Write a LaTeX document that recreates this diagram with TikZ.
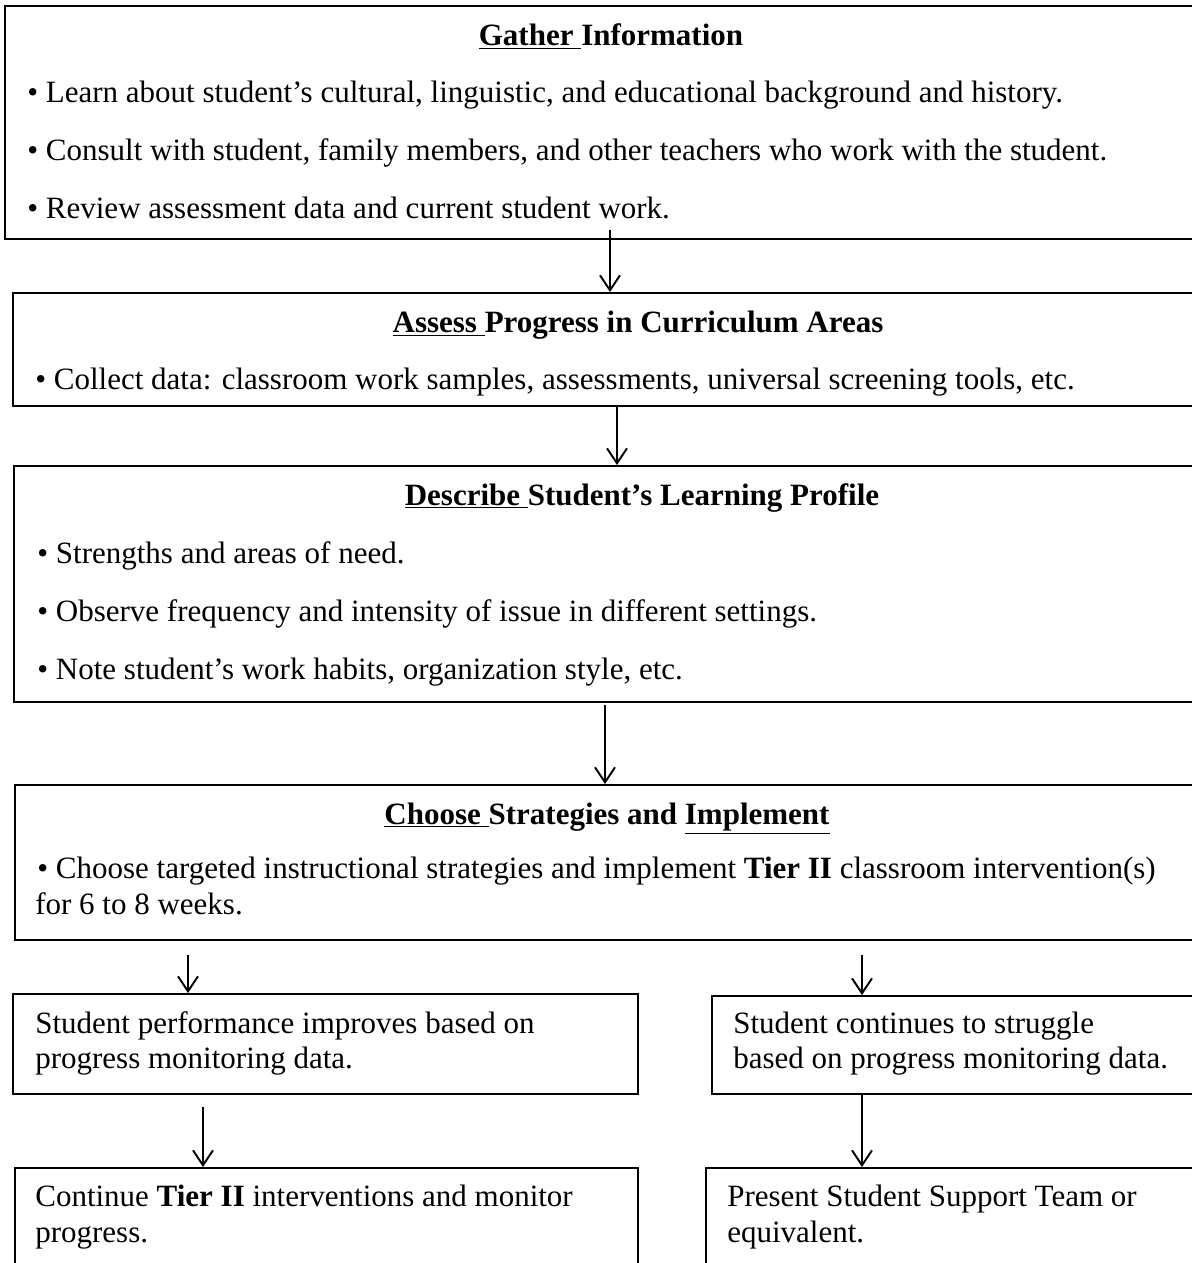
\documentclass[tikz,border=0pt]{standalone}
\usepackage{fontspec}
\setmainfont{Liberation Serif}
\usepackage{tikz}
\usetikzlibrary{fit,arrows.meta}

\newcommand{\bodysize}{\fontsize{17.64pt}{21pt}\selectfont}

\begin{document}
\begin{tikzpicture}[x=0.02cm, y=-0.02cm,
    box/.style={draw, line width=1.1pt, inner sep=0pt},
    txt/.style={anchor=base west, inner sep=0pt, font=\bodysize},
    head/.style={anchor=base, inner sep=0pt, font=\bodysize\bfseries},
    >={Straight Barb[length=3mm,width=4mm]},
]

\useasboundingbox (0,0) rectangle (1192,1263);
\clip (0,0) rectangle (1192,1263);

% boxes
\node [box, fit={(5,6) (1215,239)}] (gather) {};
\node [box, fit={(13,293) (1215,406)}] (assess) {};
\node [box, fit={(14,466) (1215,702)}] (describe) {};
\node [box, fit={(15,785) (1215,940)}] (choose) {};
\node [box, fit={(13,994) (638,1094)}] (better) {};
\node [box, fit={(712,996) (1215,1094)}] (struggle) {};
\node [box, fit={(15,1168) (638,1290)}] (cont) {};
\node [box, fit={(706,1168) (1215,1290)}] (present) {};

% texts
\node [head] (g0) at (611,46) {\underline{Gather\ }Information};
\node [txt] (g1) at (27,103) {• Learn about student’s cultural, linguistic, and educational background and history.};
\node [txt] (g2) at (27,161) {• Consult with student, family members, and other teachers who work with the student.};
\node [txt] (g3) at (27,219) {• Review assessment data and current student work.};

\node [head] (s0) at (638,333) {\underline{Assess\ }Progress in Curriculum Areas};
\node [txt] (s1) at (35,390) {• Collect data: classroom work samples, assessments, universal screening tools, etc.};

\node [head] (d0) at (642,505) {\underline{Describe\ }Student’s Learning Profile};
\node [txt] (d1) at (37,563) {• Strengths and areas of need.};
\node [txt] (d2) at (37,621) {• Observe frequency and intensity of issue in different settings.};
\node [txt] (d3) at (37,679) {• Note student’s work habits, organization style, etc.};

\node [head] (c0) at (607,824) {\underline{Choose\ }Strategies and \underline{Implement}};
\node [txt] (c1) at (37,878) {• Choose targeted instructional strategies and implement \textbf{Tier II} classroom intervention(s)};
\node [txt] (c2) at (35,914) {for 6 to 8 weeks.};

\node [txt] (b1) at (35,1033) {Student performance improves based on};
\node [txt] (b2) at (35,1068) {progress monitoring data.};
\node [txt] (t1) at (733,1033) {Student continues to struggle};
\node [txt] (t2) at (733,1068) {based on progress monitoring data.};

\node [txt] (n1) at (35,1206) {Continue \textbf{Tier II} interventions and monitor};
\node [txt] (n2) at (35,1242) {progress.};
\node [txt] (p1) at (727,1206) {Present Student Support Team or};
\node [txt] (p2) at (727,1242) {equivalent.};

% arrows
\coordinate (a1) at (610,230);
\coordinate (a2) at (617,406);
\coordinate (a3) at (605,705);
\coordinate (a4) at (188,955);
\coordinate (a5) at (862,955);
\coordinate (a6) at (203,1107);
\coordinate (a7) at (862,1094);
\draw [->, line width=1.1pt] (a1) -- (a1 |- assess.north);
\draw [->, line width=1.1pt] (a2) -- (a2 |- describe.north);
\draw [->, line width=1.1pt] (a3) -- (a3 |- choose.north);
\draw [->, line width=1.1pt] (a4) -- (a4 |- better.north);
\draw [->, line width=1.1pt] (a5) -- (a5 |- struggle.north);
\draw [->, line width=1.1pt] (a6) -- (a6 |- cont.north);
\draw [->, line width=1.1pt] (a7) -- (a7 |- present.north);

\end{tikzpicture}
\end{document}
